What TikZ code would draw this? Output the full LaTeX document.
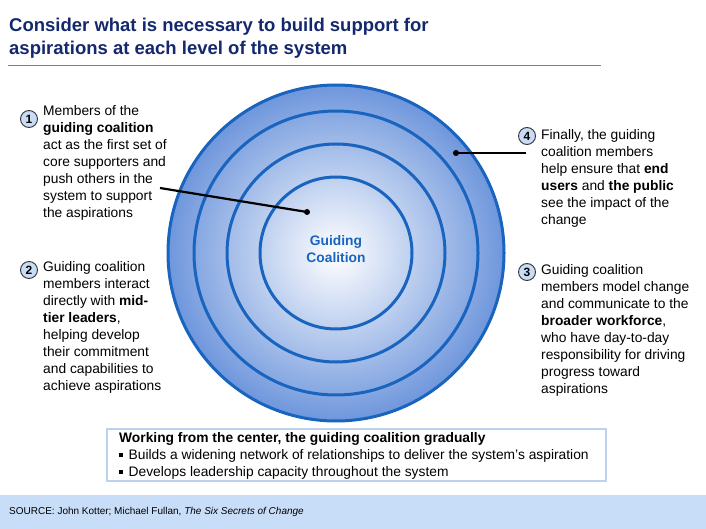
\documentclass[tikz,border=0pt]{standalone}
\usepackage{fontspec}
\setmainfont{Liberation Sans}
\begin{document}
\begin{tikzpicture}[x=1pt,y=-1pt,
  ring/.style={draw=ringc,line width=3pt},
  txt/.style={anchor=north west,align=left,font=\fontsize{13.8}{17}\selectfont,inner sep=0pt},
  num/.style={circle,draw=black!80,fill=numc,line width=0.9pt,inner sep=0pt,minimum size=17pt,font=\bfseries\fontsize{12}{12}\selectfont},
  lead/.style={line width=2.2pt,black},
  dot/.style={circle,fill=black,inner sep=0pt,minimum size=6pt}]
\definecolor{ringc}{RGB}{25,100,190}
\definecolor{outc}{RGB}{110,150,220}
\definecolor{numc}{RGB}{200,220,245}
\definecolor{titc}{RGB}{20,40,110}
\definecolor{foot}{RGB}{200,222,248}
\definecolor{boxc}{RGB}{190,210,240}
\useasboundingbox (0,0) rectangle (706,529);
\fill[white] (0,0) rectangle (706,529);
% title
\node[anchor=north west,align=left,inner sep=0pt,text=titc,font=\bfseries\fontsize{18.5}{23}\selectfont] (title) at (9,18) {Consider what is necessary to build support for\\aspirations at each level of the system};
\draw[gray,line width=0.6pt] (8,65) -- (601,65);
% circles
\coordinate (c) at (336,253);
\shade[inner color=white,outer color=outc] (c) circle (169);
\draw[ring] (c) circle (168);
\draw[ring] (c) circle (142);
\draw[ring] (c) circle (109);
\draw[ring] (c) circle (76);
\node[text=ringc,font=\bfseries\fontsize{13.8}{17}\selectfont,align=center] (gc) at (336,249) {Guiding\\Coalition};
% texts
\node[num] (n1) at (29,119) {1};
\node[txt] (t1) at (43,105) {Members of the\\\textbf{guiding coalition}\\act as the first set of\\core supporters and\\push others in the\\system to support\\the aspirations};
\node[num] (n2) at (29,270) {2};
\node[txt] (t2) at (43,261) {Guiding coalition\\members interact\\directly with \textbf{mid-}\\\textbf{tier leaders},\\helping develop\\their commitment\\and capabilities to\\achieve aspirations};
\node[num] (n4) at (527,136) {4};
\node[txt] (t4) at (541,129) {Finally, the guiding\\coalition members\\help ensure that \textbf{end}\\\textbf{users} and \textbf{the public}\\see the impact of the\\change};
\node[num] (n3) at (527,272) {3};
\node[txt] (t3) at (541,264) {Guiding coalition\\members model change\\and communicate to the\\\textbf{broader workforce},\\who have day-to-day\\responsibility for driving\\progress toward\\aspirations};
% leaders
\coordinate (l1) at (160,188);
\node[dot] (d1) at (307,212) {};
\draw[lead] (l1) -- (d1.center);
\coordinate (l4) at (526,153);
\node[dot] (d4) at (456,153) {};
\draw[lead] (l4) -- (d4.center);
% bottom box
\draw[boxc,line width=2pt,fill=white] (107,429) rectangle (606,481);
\node[txt,font=\bfseries\fontsize{13.8}{17}\selectfont] (bt) at (119,432) {Working from the center, the guiding coalition gradually};
\node[txt] (b1) at (119,449) {\raisebox{2.5pt}{\rule{3.5pt}{3.5pt}}\hspace{6pt}Builds a widening network of relationships to deliver the system's aspiration};
\node[txt] (b2) at (119,466) {\raisebox{2.5pt}{\rule{3.5pt}{3.5pt}}\hspace{6pt}Develops leadership capacity throughout the system};
% footer
\fill[foot] (0,495) rectangle (706,529);
\node[anchor=west,inner sep=0pt,font=\fontsize{10}{12}\selectfont] (src) at (9,512) {SOURCE: John Kotter; Michael Fullan, \textit{The Six Secrets of Change}};
\end{tikzpicture}
\end{document}
